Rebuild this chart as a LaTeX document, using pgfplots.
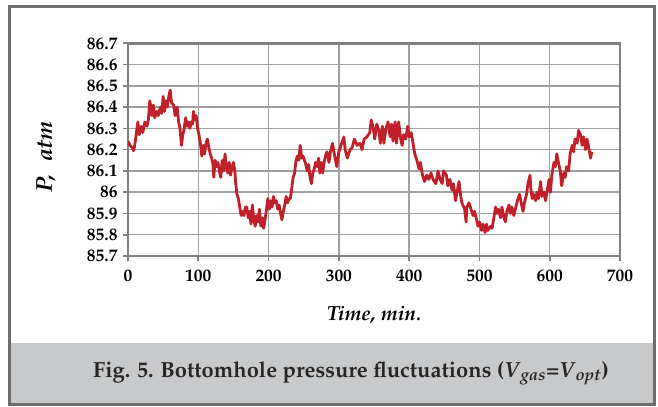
\documentclass[border=0pt]{standalone}
\usepackage[T1]{fontenc}
\usepackage{mathpazo}
\usepackage{pgfplots}
\pgfplotsset{compat=1.18}
\definecolor{linered}{RGB}{192,32,42}
\definecolor{framegray}{RGB}{110,110,110}
\definecolor{capgray}{RGB}{200,201,203}
\definecolor{axgray}{RGB}{128,128,128}
\definecolor{gridgray}{RGB}{160,160,160}
\begin{document}
\begin{tikzpicture}[x=1bp,y=1bp]
\useasboundingbox (0,0) rectangle (658,406);
\fill[capgray] (9.5,2) rectangle (654,63);
\draw[framegray, line width=3bp] (9.5,2) rectangle (654,399);
\begin{axis}[
  at={(128bp,150bp)}, anchor=south west,
  scale only axis, width=492bp, height=212.7bp,
  xmin=0, xmax=700, ymin=85.7, ymax=86.7,
  xtick={0,100,...,700},
  ytick={85.7,85.8,85.9,86,86.1,86.2,86.3,86.4,86.5,86.6,86.7},
  yticklabels={85.7,85.8,85.9,86,86.1,86.2,86.3,86.4,86.5,86.6,86.7},
  xtick pos=left, ytick pos=left,
  tick align=outside, major tick length=5bp,
  tick style={axgray, line width=1.6bp},
  axis line style={axgray, line width=2.6bp},
  grid=major,
  major grid style={gridgray, line width=1.4bp},
  /pgf/number format/assume math mode=true,
  ticklabel style={font=\fontsize{17.5}{17.5}\selectfont\bfseries},
  yticklabel style={xshift=-2bp},
  xticklabel style={yshift=-5bp},
  xlabel={\textbf{\textit{Time, min.}}},
  xlabel style={at={(axis description cs:0.5,-0.277)}, anchor=center, font=\fontsize{20.5}{20.5}\selectfont},
  ylabel={\textbf{\textit{P,\hspace{0.55em}atm}}},
  ylabel style={at={(axis description cs:-0.1667,0.466)}, anchor=center, font=\fontsize{23}{23}\selectfont},
]
\addplot[linered, line width=2.8bp, line join=round] coordinates {
(0,86.24)(3,86.22)(6,86.21)(8,86.195)(10,86.23)(12,86.28)(14,86.33)(16,86.27)(19,86.31)(21,86.28)(24,86.33)(27,86.31)(29,86.34)(31,86.43)(33,86.39)(34,86.36)(36,86.41)(38,86.35)(41,86.38)(43,86.36)(46,86.40)(48,86.37)(50,86.45)(52,86.38)(54,86.43)(56,86.40)(58,86.45)(60,86.48)(62,86.42)(65,86.41)(67,86.36)(70,86.40)(72,86.33)(74,86.30)(76,86.22)(78,86.27)(80,86.30)(82,86.35)(84,86.31)(86,86.33)(88,86.30)(90,86.33)(92,86.32)(93,86.38)(95,86.34)(97,86.36)(99,86.30)(101,86.27)(103,86.23)(105,86.17)(107,86.22)(109,86.18)(111,86.23)(113,86.25)(115,86.21)(117,86.18)(119,86.16)(121,86.13)(122,86.07)(124,86.15)(126,86.12)(128,86.14)(130,86.10)(132,86.07)(134,86.15)(136,86.10)(138,86.18)(140,86.12)(142,86.09)(144,86.14)(146,86.08)(148,86.12)(150,86.14)(152,86.10)(153,86.05)(155,85.99)(157,85.97)(159,85.93)(161,85.89)(163,85.91)(165,85.89)(167,85.93)(169,85.93)(171,85.88)(173,85.91)(175,85.85)(177,85.94)(179,85.87)(181,85.84)(183,85.89)(185,85.86)(187,85.92)(189,85.84)(191,85.88)(193,85.83)(195,85.87)(197,85.92)(199,85.97)(201,85.92)(203,85.96)(205,85.93)(207,85.98)(209,85.95)(211,85.96)(213,85.92)(215,85.94)(217,85.90)(219,85.87)(221,85.91)(223,85.94)(225,85.98)(227,85.95)(229,85.97)(231,85.97)(233,86.02)(235,86.07)(237,86.09)(239,86.15)(241,86.17)(243,86.15)(245,86.22)(247,86.16)(249,86.17)(251,86.15)(253,86.13)(255,86.10)(257,86.13)(259,86.07)(261,86.04)(263,86.09)(265,86.11)(267,86.14)(269,86.12)(271,86.16)(273,86.09)(275,86.14)(277,86.09)(279,86.14)(281,86.17)(283,86.19)(286,86.14)(288,86.19)(291,86.23)(294,86.17)(297,86.12)(300,86.19)(303,86.22)(307,86.26)(309,86.20)(312,86.16)(316,86.20)(319,86.21)(322,86.25)(326,86.22)(330,86.23)(333,86.20)(336,86.25)(340,86.26)(344,86.28)(346,86.34)(349,86.30)(351,86.25)(354,86.32)(357,86.29)(359,86.23)(362,86.31)(364,86.23)(367,86.30)(370,86.33)(373,86.26)(375,86.32)(377,86.24)(380,86.33)(382,86.23)(385,86.33)(388,86.25)(390,86.22)(392,86.27)(395,86.25)(398,86.31)(400,86.26)(403,86.28)(405,86.24)(408,86.18)(411,86.15)(414,86.11)(416,86.14)(419,86.08)(422,86.05)(425,86.08)(428,86.06)(431,86.09)(434,86.06)(438,86.04)(441,86.10)(444,86.06)(447,86.04)(449,86.10)(453,86.08)(455,86.03)(458,86.06)(461,86.01)(463,86.04)(466,85.96)(468,86.00)(471,86.05)(473,85.99)(475,85.95)(479,85.92)(481,85.86)(482,85.93)(485,85.95)(488,85.92)(491,85.89)(493,85.91)(496,85.87)(498,85.84)(500,85.86)(503,85.82)(505,85.85)(508,85.81)(510,85.85)(512,85.82)(516,85.84)(518,85.83)(520,85.87)(523,85.93)(525,85.90)(527,85.92)(530,85.88)(532,85.93)(535,85.88)(537,85.86)(539,85.91)(542,85.94)(544,85.90)(546,85.93)(549,85.89)(551,85.92)(554,85.96)(557,85.99)(560,85.94)(562,85.91)(564,85.95)(567,85.99)(569,86.04)(572,86.08)(573,86.02)(575,85.97)(577,85.99)(580,85.96)(582,86.00)(584,85.97)(587,86.05)(589,85.98)(592,86.00)(594,85.96)(596,86.00)(599,86.06)(601,86.00)(603,86.08)(606,86.14)(608,86.12)(610,86.18)(613,86.13)(615,86.10)(617,86.03)(620,86.09)(622,86.07)(624,86.12)(627,86.10)(629,86.18)(632,86.22)(634,86.19)(636,86.25)(639,86.23)(641,86.29)(644,86.27)(646,86.22)(648,86.26)(651,86.20)(653,86.25)(655,86.22)(658,86.16)(660,86.19)
};
\end{axis}
\node[font=\fontsize{22}{22}\selectfont\bfseries, text=black!85] at (351,33)
  {Fig. 5. Bottomhole pressure fluctuations (\textit{V}\textsubscript{\textit{gas}}=\textit{V}\textsubscript{\textit{opt}})};
\end{tikzpicture}
\end{document}
